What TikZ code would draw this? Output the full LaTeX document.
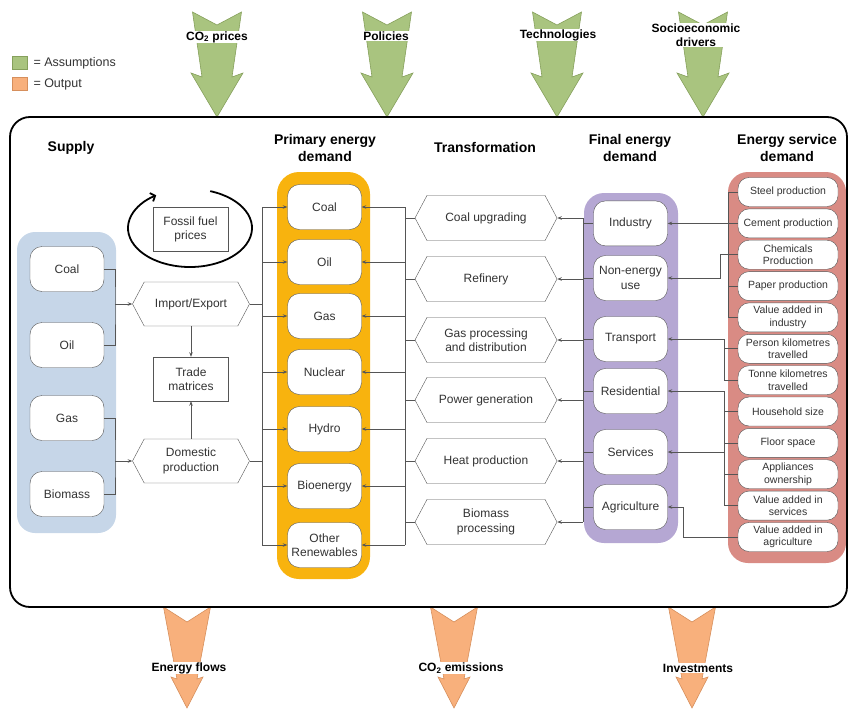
\documentclass[tikz,border=0pt]{standalone}
\usepackage{fontspec}
\setmainfont{Liberation Sans}
\usepackage{tikz}
\usetikzlibrary{arrows.meta,shapes.symbols}
\usepackage{xcolor}
\definecolor{wemgreen}{HTML}{A9C47F}
\definecolor{wemgreendark}{HTML}{86A05C}
\definecolor{wemorange}{HTML}{F8B07C}
\definecolor{wemorangedark}{HTML}{D68F5C}
\definecolor{wemblue}{HTML}{C6D6E8}
\definecolor{wemgold}{HTML}{F8B30E}
\definecolor{wempurple}{HTML}{B5A7D3}
\definecolor{wemred}{HTML}{D98B84}
\definecolor{wemline}{HTML}{555555}
\definecolor{wemtext}{HTML}{333333}

\begin{document}
\begin{tikzpicture}[x=1pt, y=-1pt,
  box/.style={draw=wemline, fill=white, rounded corners=12pt, minimum width=74pt, minimum height=45pt, inner sep=1pt, align=center, text=wemtext, font=\fontsize{12}{14.5}\selectfont},
  sbox/.style={box, rounded corners=11pt, minimum width=100pt, minimum height=29pt, font=\fontsize{10.5}{12.5}\selectfont},
  rbox/.style={box, sharp corners, minimum width=75pt, minimum height=44pt},
  hexbox/.style={draw=wemline, fill=white, signal, signal to=west and east, signal pointer angle=124, minimum width=142pt, minimum height=45pt, inner sep=1pt, align=center, text=wemtext, font=\fontsize{12}{14.5}\selectfont},
  heading/.style={font=\fontsize{14}{17}\selectfont\bfseries, align=center},
  lbl/.style={font=\fontsize{12}{14.5}\selectfont\bfseries, fill=white, inner sep=0.5pt, align=center},
  arr/.style={-{Stealth[length=4.5pt, width=3.5pt]}, wemline, line width=0.7pt},
  ln/.style={wemline, line width=0.7pt},
  inarr/.style={fill=wemgreen, draw=wemgreendark, line width=0.6pt},
  outarr/.style={fill=wemorange, draw=wemorangedark, line width=0.6pt}
]
  \useasboundingbox (0,0) rectangle (848,709);

  % legend
  \node[inarr, minimum width=15pt, minimum height=12.5pt, inner sep=0pt] (legin) at (19.5,63) {};
  \node[outarr, minimum width=15pt, minimum height=12.5pt, inner sep=0pt] (legout) at (19.5,84) {};
  \node[anchor=west, inner sep=0pt, text=wemtext, font=\fontsize{12.5}{14}\selectfont] (legintxt) at ([xshift=6pt]legin.east) {= Assumptions};
  \node[anchor=west, inner sep=0pt, text=wemtext, font=\fontsize{12.5}{14}\selectfont] (legouttxt) at ([xshift=6pt]legout.east) {= Output};

  % big arrows in and out
  \foreach \ax in {217,387,557,703}
    \draw[inarr, shift={(\ax,12)}] (-24.5,0) -- (0,13) -- (24.5,0) -- (15,65) -- (26,61) -- (0,105) -- (-26,61) -- (-15,65) -- cycle;
  \foreach \ax in {187,454,692}
    \draw[outarr, shift={(\ax,607)}] (-23.5,0) -- (0,15) -- (23.5,0) -- (10,72) -- (16,70) -- (0,101) -- (-16,70) -- (-10,72) -- cycle;

  \node[lbl] (co2p) at (217,37) {CO\textsubscript{2} prices};
  \node[lbl] (policies) at (386,36) {Policies};
  \node[lbl] (techs) at (558,35) {Technologies};
  \node[lbl] (socio) at (696,35) {Socioeconomic\\drivers};
  \node[lbl] (flows) at (189,668) {Energy flows};
  \node[lbl] (co2e) at (461,668) {CO\textsubscript{2} emissions};
  \node[lbl] (invest) at (698,668) {Investments};

  % column backgrounds and frame
  \fill[wemblue, rounded corners=18pt] (17,232) rectangle (116,533);
  \fill[wemgold, rounded corners=22pt] (277,172) rectangle (370,579);
  \fill[wempurple, rounded corners=20pt] (584,193) rectangle (678,543);
  \fill[wemred, rounded corners=20pt] (728,172) rectangle (846,563);
  \draw[line width=1.8pt, rounded corners=20pt] (10,117) rectangle (847,607);

  % headings
  \node[heading] (hsupply) at (71,148) {Supply};
  \node[heading] (hprim) at (325,148) {Primary energy\\demand};
  \node[heading] (htrans) at (485,147) {Transformation};
  \node[heading] (hfinal) at (630,148) {Final energy\\demand};
  \node[heading] (hserv) at (787,148) {Energy service\\demand};

  % supply
  \node[box] (scoal) at (67,269) {Coal};
  \node[box] (soil) at (67,345) {Oil};
  \node[box] (sgas) at (67,418) {Gas};
  \node[box] (sbio) at (67,494) {Biomass};
  \node[hexbox, minimum width=117pt, minimum height=44pt] (impexp) at (191,304) {Import/Export};
  \node[hexbox, minimum width=117pt, minimum height=44pt] (domprod) at (191,461) {Domestic\\production};
  \node[rbox] (trade) at (191,379) {Trade\\matrices};
  \node[rbox] (fossil) at (190.5,229.5) {Fossil fuel\\prices};
  \coordinate (loop) at (190,228);
  \draw[line width=1.8pt, -{Straight Barb[length=4pt, width=9pt]}] (loop) ++(-71:62 and 39) arc[start angle=-71, end angle=237, x radius=62, y radius=39];

  \coordinate (sbusA) at (115,304);
  \coordinate (sbusB) at (115,461);
  \draw[ln] (scoal.east) -| (sbusA) |- (soil.east);
  \draw[ln] (sgas.east) -| (sbusB) |- (sbio.east);
  \draw[arr] (sbusA) -- (impexp.west);
  \draw[arr] (sbusB) -- (domprod.west);
  \draw[arr] (impexp.south) -- (trade.north);
  \draw[arr] (domprod.north) -- (trade.south);

  % primary energy demand
  \node[box] (pcoal) at (324.5,207) {Coal};
  \node[box] (poil) at (324.5,262) {Oil};
  \node[box] (pgas) at (324.5,316) {Gas};
  \node[box] (pnuc) at (324.5,372) {Nuclear};
  \node[box] (phydro) at (324.5,429) {Hydro};
  \node[box] (pbio) at (324.5,486) {Bioenergy};
  \node[box] (pother) at (324.5,545) {Other\\Renewables};

  \coordinate (lbus) at (262,304);
  \draw[ln] (impexp.east) -- (lbus);
  \draw[ln] (domprod.east) -- (domprod.east -| lbus);
  \draw[ln] (lbus |- pcoal) -- (lbus |- pother);
  \draw[arr] (lbus |- pcoal) -- (pcoal);
  \draw[arr] (lbus |- poil) -- (poil);
  \draw[arr] (lbus |- pgas) -- (pgas);
  \draw[arr] (lbus |- pnuc) -- (pnuc);
  \draw[arr] (lbus |- phydro) -- (phydro);
  \draw[arr] (lbus |- pbio) -- (pbio);
  \draw[arr] (lbus |- pother) -- (pother);

  % transformation
  \node[hexbox] (tcoal) at (486,218) {Coal upgrading};
  \node[hexbox] (tref) at (486,279) {Refinery};
  \node[hexbox] (tgas) at (486,340) {Gas processing\\and distribution};
  \node[hexbox] (tpow) at (486,400) {Power generation};
  \node[hexbox] (theat) at (486,461) {Heat production};
  \node[hexbox] (tbio) at (486,522) {Biomass\\processing};

  \coordinate (rbus) at (405,218);
  \draw[ln] (rbus |- pcoal) -- (rbus |- pother);
  \draw[arr] (rbus |- pcoal) -- (pcoal);
  \draw[arr] (rbus |- poil) -- (poil);
  \draw[arr] (rbus |- pgas) -- (pgas);
  \draw[arr] (rbus |- pnuc) -- (pnuc);
  \draw[arr] (rbus |- phydro) -- (phydro);
  \draw[arr] (rbus |- pbio) -- (pbio);
  \draw[arr] (rbus |- pother) -- (pother);
  \draw[ln] (tcoal.west) -- (tcoal.west -| rbus);
  \draw[ln] (tref.west) -- (tref.west -| rbus);
  \draw[ln] (tgas.west) -- (tgas.west -| rbus);
  \draw[ln] (tpow.west) -- (tpow.west -| rbus);
  \draw[ln] (theat.west) -- (theat.west -| rbus);
  \draw[ln] (tbio.west) -- (tbio.west -| rbus);

  % final energy demand
  \node[box] (find) at (630.5,223.4) {Industry};
  \node[box] (fnon) at (630.5,278) {Non-energy\\use};
  \node[box] (ftrans) at (630.5,339) {Transport};
  \node[box] (fres) at (630.5,391) {Residential};
  \node[box] (fserv) at (630.5,452) {Services};
  \node[box] (fagri) at (630.5,507) {Agriculture};

  \coordinate (fbus) at (583,218);
  \draw[ln] (fbus |- tcoal) -- (fbus |- tbio);
  \draw[arr] (fbus |- tcoal) -- (tcoal.east);
  \draw[arr] (fbus |- tref) -- (tref.east);
  \draw[arr] (fbus |- tgas) -- (tgas.east);
  \draw[arr] (fbus |- tpow) -- (tpow.east);
  \draw[arr] (fbus |- theat) -- (theat.east);
  \draw[arr] (fbus |- tbio) -- (tbio.east);
  \draw[ln] (find.west) -- (find.west -| fbus);
  \draw[ln] (fnon.west) -- (fnon.west -| fbus);
  \draw[ln] (ftrans.west) -- (ftrans.west -| fbus);
  \draw[ln] (fres.west) -- (fres.west -| fbus);
  \draw[ln] (fserv.west) -- (fserv.west -| fbus);
  \draw[ln] (fagri.west) -- (fagri.west -| fbus);

  % energy service demand
  \node[sbox] (steel) at (788,192) {Steel production};
  \node[sbox] (cement) at (788,223.4) {Cement production};
  \node[sbox] (chem) at (788,254.7) {Chemicals\\Production};
  \node[sbox] (paper) at (788,286.1) {Paper production};
  \node[sbox] (vaind) at (788,317.4) {Value added in\\industry};
  \node[sbox] (perskm) at (788,348.8) {Person kilometres\\travelled};
  \node[sbox] (tonkm) at (788,380.2) {Tonne kilometres\\travelled};
  \node[sbox] (house) at (788,411.5) {Household size};
  \node[sbox] (floor) at (788,442.9) {Floor space};
  \node[sbox] (appl) at (788,474.2) {Appliances\\ownership};
  \node[sbox] (vaserv) at (788,505.6) {Value added in\\services};
  \node[sbox] (vaagri) at (788,537) {Value added in\\agriculture};

  \coordinate (ibus) at (728,192);
  \draw[ln] (ibus |- steel) -- (ibus |- vaind);
  \draw[ln] (ibus |- steel) -- (steel.west);
  \draw[ln] (ibus |- cement) -- (cement.west);
  \draw[ln] (ibus |- chem) -- (chem.west);
  \draw[ln] (ibus |- paper) -- (paper.west);
  \draw[ln] (ibus |- vaind) -- (vaind.west);
  \draw[arr] (ibus |- cement) -- (find.east);
  \coordinate (nstep) at (720,278);
  \draw[arr] (ibus |- chem) -| (nstep) -- (fnon.east);

  \coordinate (tbus) at (724,339);
  \draw[ln] (tbus) |- (tonkm.west);
  \draw[ln] (tbus |- perskm) -- (perskm.west);
  \draw[arr] (tbus) -- (ftrans.east);

  \coordinate (hbus) at (724,391);
  \draw[ln] (hbus) |- (vaserv.west);
  \draw[ln] (hbus |- house) -- (house.west);
  \draw[ln] (hbus |- floor) -- (floor.west);
  \draw[ln] (hbus |- appl) -- (appl.west);
  \draw[arr] (hbus) -- (fres.east);
  \draw[arr] (hbus |- fserv) -- (fserv.east);

  \coordinate (abus) at (683,507);
  \draw[arr] (vaagri.west) -| (abus) -- (fagri.east);
\end{tikzpicture}
\end{document}
